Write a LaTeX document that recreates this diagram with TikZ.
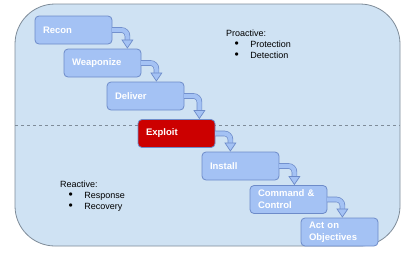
\documentclass[tikz,border=0pt]{standalone}
\usepackage{fontspec}
\setmainfont{Liberation Sans}
\usepackage{tikz}
\usetikzlibrary{arrows.meta, calc}
\definecolor{paleblue}{HTML}{CFE2F3}
\definecolor{framegray}{HTML}{7F8C99}
\definecolor{stageblue}{HTML}{A4C2F4}
\definecolor{stageedge}{HTML}{6D8BC9}
\definecolor{exploitred}{HTML}{CC0000}

\tikzset{
  stage/.style={draw=stageedge, fill=stageblue, line width=0.8pt, rounded corners=4pt,
    minimum width=77pt, minimum height=28pt, text width=61pt, inner xsep=8pt, inner ysep=0pt,
    align=left, text=white, font=\fontsize{9.5}{12}\selectfont\bfseries},
  shaft/.style={draw=stageedge, line width=0.7pt, double=stageblue, double distance=4.2pt, rounded corners=6pt},
  head/.style={draw=stageedge, line width=0.7pt,
    -{Triangle[width=12pt, length=9pt, fill=stageblue, line width=0.7pt]}},
  note/.style={anchor=north west, align=left, inner sep=0pt, font=\fontsize{9}{11}\selectfont}
}
\newcommand{\itm}[1]{\hspace*{8.5pt}{\fontsize{12}{11}\selectfont\textbullet}\hspace*{11.5pt}#1}

\begin{document}
\begin{tikzpicture}[x=1pt, y=-1pt]
  \useasboundingbox (0,0) rectangle (413,255);
  \fill[white] (0,0) rectangle (413,255);

  % panel and the proactive / reactive split
  \draw[framegray, fill=paleblue, line width=0.8pt, rounded corners=40pt] (15,4) rectangle (400,246);
  \draw[framegray, dashed, line width=0.6pt] (15,125.5) -- (400,125.5);

  \node[note] (proactive) at (226,30) {Proactive:\\\itm{Protection}\\\itm{Detection}};
  \node[note] (reactive) at (60,181) {Reactive:\\\itm{Response}\\\itm{Recovery}};

  % kill chain stages
  \node[stage] (recon) at (73.5,30) {Recon};
  \node[stage] (weapon) at (102.5,63) {Weaponize};
  \node[stage] (deliver) at (145.5,96) {Deliver};
  \node[stage, fill=exploitred] (exploit) at (176.5,133.5) {Exploit};
  \node[stage] (install) at (240.5,166) {Install};
  \node[stage] (command) at (288.5,199.5) {Command \&\\Control};
  \node[stage] (act) at (339.5,232) {Act on\\Objectives};

  % bent arrows between stages
  \foreach \a/\b in {recon/weapon, weapon/deliver, deliver/exploit, exploit/install, install/command, command/act} {
    \draw[shaft] ([xshift=-0.4pt]\a.east) -| ([xshift=15pt, yshift=8pt]\a.east |- \b.north);
    \draw[head] ([xshift=15pt, yshift=9pt]\a.east |- \b.north) -- ([xshift=15pt]\a.east |- \b.north);
  }
\end{tikzpicture}
\end{document}
